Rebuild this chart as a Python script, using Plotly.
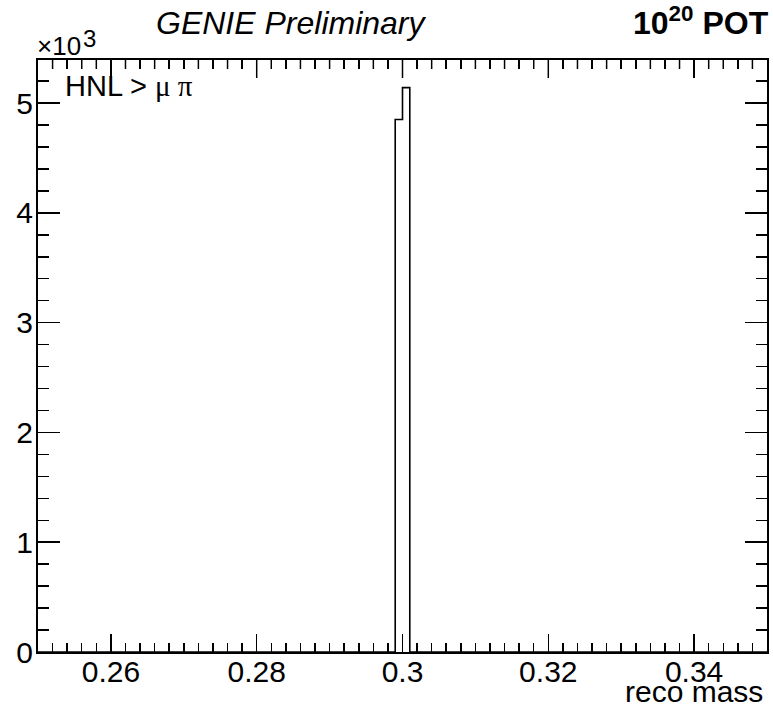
import plotly.graph_objects as go

# Histogram definition (bin edges from axis range / bin width)
x_low = 0.25
x_high = 0.35
bin_width = 0.001
n_bins = 100
# bin contents: all empty except two bins at 0.299-0.300 and 0.300-0.301
peak_bin_index = [49, 50]
peak_counts = [4850, 5140]

counts = [0] * n_bins
for i, c in zip(peak_bin_index, peak_counts):
    counts[i] = c
edges = [round(x_low + i * bin_width, 6) for i in range(n_bins + 1)]

x_tick_vals = [0.26, 0.28, 0.30, 0.32, 0.34]
x_tick_text = ["0.26", "0.28", "0.3", "0.32", "0.34"]
x_minor_step = 0.002
y_tick_vals = [0, 1000, 2000, 3000, 4000, 5000]
y_tick_text = ["0", "1", "2", "3", "4", "5"]
y_minor_step = 200
y_max = 5392

W, H = 773, 707
ML, MR, MT, MB = 38, 4, 60, 55
PW, PH = W - ML - MR, H - MT - MB

def px_x(px):
    return (px - ML) / PW

def px_y(py):
    return 1 - (py - MT) / PH

FONT = "Liberation Sans, Arial, Helvetica, sans-serif"

fig = go.Figure()
fig.add_trace(go.Scatter(
    x=edges, y=counts + [counts[-1]], mode="lines",
    line=dict(color="black", width=1.6, shape="hv"),
    hoverinfo="skip", showlegend=False,
))

fig.update_layout(
    width=W, height=H,
    margin=dict(l=ML, r=MR, t=MT, b=MB, pad=0),
    paper_bgcolor="white", plot_bgcolor="white",
    font=dict(family=FONT, color="black", size=30),
    showlegend=False,
    xaxis=dict(
        range=[x_low, x_high], showgrid=False, zeroline=False,
        showline=True, linecolor="black", linewidth=2, mirror="allticks",
        ticks="inside", ticklen=18, tickwidth=1.5, tickcolor="black",
        tickvals=x_tick_vals, ticktext=x_tick_text,
        tickfont=dict(family=FONT, size=30), ticklabelstandoff=-8,
        minor=dict(dtick=x_minor_step, tick0=x_low, ticks="inside", ticklen=9,
                   tickwidth=1.5, tickcolor="black", showgrid=False),
    ),
    yaxis=dict(
        range=[0, y_max], showgrid=False, zeroline=False,
        showline=True, linecolor="black", linewidth=2, mirror="allticks",
        ticks="inside", ticklen=22, tickwidth=1.5, tickcolor="black",
        tickvals=y_tick_vals, ticktext=y_tick_text,
        tickfont=dict(family=FONT, size=30), ticklabelstandoff=-3,
        minor=dict(dtick=y_minor_step, tick0=0, ticks="inside", ticklen=11,
                   tickwidth=1.5, tickcolor="black", showgrid=False),
    ),
)

# top-edge tick marks (mirror of the x axis ticks)
n_minor = int(round((x_high - x_low) / x_minor_step))
for k in range(1, n_minor):
    v = round(x_low + k * x_minor_step, 6)
    is_major = any(abs(v - t) < 1e-9 for t in x_tick_vals)
    length = 18 if is_major else 9
    fig.add_shape(type="line", xref="x", yref="paper", x0=v, x1=v,
                  y0=1, y1=1 - length / PH, layer="above",
                  line=dict(color="black", width=1.5))

annots = [
    dict(text="<i>GENIE Preliminary</i>", x=px_x(292), y=px_y(23),
         xanchor="center", yanchor="middle", font=dict(size=32)),
    dict(text="<b>10<sup>20</sup> POT</b>", x=px_x(773), y=px_y(21),
         xanchor="right", yanchor="middle", font=dict(size=32)),
    dict(text="×10", x=px_x(35), y=px_y(46),
         xanchor="left", yanchor="middle", font=dict(size=26)),
    dict(text="3", x=px_x(81), y=px_y(38),
         xanchor="left", yanchor="middle", font=dict(size=24)),
    dict(text='HNL &gt; <span style="font-family:Liberation Serif">μ π</span>',
         x=px_x(63), y=px_y(86), xanchor="left", yanchor="middle",
         font=dict(size=29)),
    dict(text="reco mass", x=px_x(767), y=px_y(691),
         xanchor="right", yanchor="middle", font=dict(size=30)),
]
for a in annots:
    fig.add_annotation(xref="paper", yref="paper", showarrow=False, **a)

fig.write_html(
    "out.html",
    config={"displayModeBar": False, "staticPlot": True},
    post_script="document.body.style.margin='0';document.body.style.overflow='hidden';",
)
